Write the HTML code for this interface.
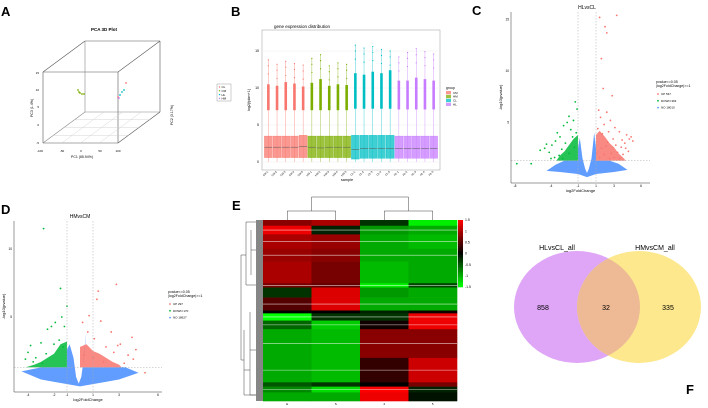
<!DOCTYPE html>
<html><head><meta charset="utf-8"><style>
body{margin:0;background:#fff}
svg{display:block;font-family:"Liberation Sans",sans-serif}
</style></head><body>
<svg id="s" width="708" height="408" viewBox="0 0 708 408">
<g font-weight="bold" font-size="13">
<text x="1" y="16">A</text><text x="231" y="16">B</text><text x="472" y="15">C</text>
<text x="1" y="214">D</text><text x="232" y="210">E</text><text x="686" y="394">F</text>
</g>
</svg>
<script>
// ---------- data ----------
const pcaGroups=["CL","CM","HL","HM"];
const pcaColors=["#F8766D","#7CAE00","#00BFC4","#C77CFF"];
const boxGroups=["CM","HM","CL","HL"];
const boxQ1=[0.6,0.6,0.6,0.6,0.6, 0.6,0.6,0.6,0.6,0.6, 0.4,0.5,0.5,0.5,0.5, 0.5,0.5,0.5,0.5,0.5];
const boxMed=[2.0,2.0,2.0,2.0,2.1, 2.0,1.9,2.0,2.0,2.0, 1.7,1.8,1.8,1.8,1.8, 1.8,1.8,1.8,1.8,1.8];
const boxQ3=[3.5,3.5,3.5,3.5,3.6, 3.5,3.5,3.5,3.5,3.5, 3.6,3.6,3.6,3.6,3.6, 3.5,3.5,3.5,3.5,3.5];
const boxWhisk=[7.0,7.0,7.0,7.0,7.0, 7.0,7.0,7.0,7.0,7.0, 7.2,7.2,7.2,7.2,7.2, 7.1,7.1,7.1,7.1,7.1];
const boxDense=[10.5,10.3,10.8,10.6,10.2, 10.7,11.2,10.3,10.5,10.4, 12.0,11.8,12.2,12.0,12.4, 11.0,11.0,11.4,11.2,11.0];
const boxMax=[13.8,13.2,13.6,13.3,13.1, 14.0,14.5,13.0,13.4,13.2, 15.8,15.4,15.6,15.2,15.0, 14.2,14.8,15.3,14.9,14.6];
const boxYTicks=[0,5,10,15];

const cTicksX=[-8,-4,-1,1,3,6], cTicksY=[5,10,15];
const cUp=[[1.4,15.2],[3.3,15.4],[2.0,14.3],[2.2,13.7],[1.6,11.2],[1.8,8.3],[2.8,7.6],[1.3,6.2],[2.2,6.0],[1.5,5.5],[2.6,5.2],[3.1,4.5],[1.9,4.8],[3.6,4.1],[4.4,3.8],[4.7,3.4],[4.9,3.6],[4.2,3.0],[3.8,2.6],[2.9,3.4],[2.4,4.1],[1.7,3.9],[3.4,2.1],[4.0,1.9],[4.6,2.2],[3.0,1.6],[2.1,2.7],[1.2,4.4],[1.6,2.5],[2.7,2.0],[5.1,3.2],[3.9,3.3],[2.3,3.1],[1.1,2.0],[1.4,1.6],[3.2,2.8],[4.3,2.5],[2.5,1.5],[3.6,1.5],[1.9,1.9]];
const cUpDense=[[1,1.3],[1,3.8],[1.4,4.2],[2,3.6],[2.5,3.0],[3,2.6],[3.5,2.0],[4,1.6],[4.3,1.3]];
const cDown=[[-1.3,7.0],[-1.1,6.3],[-2.0,5.6],[-1.5,5.2],[-3.3,4.0],[-2.6,4.7],[-2.2,5.0],[-1.8,4.3],[-3.0,3.6],[-4.5,2.9],[-4.7,2.5],[-4.2,2.1],[-3.9,2.8],[-3.5,3.2],[-2.8,2.4],[-2.4,3.0],[-1.6,3.6],[-5.2,2.3],[-7.8,1.0],[-6.2,1.0],[-3.6,1.6],[-2.0,2.0],[-1.2,4.0],[-3.1,1.8],[-4.0,1.5],[-2.7,1.5],[-1.4,2.6]];
const cDownDense=[[-1,1.3],[-1,3.8],[-1.5,3.4],[-2,2.8],[-2.5,2.2],[-3,1.8],[-3.4,1.3]];
const cNo=[[-4.5,0.3],[-3.5,0.9],[-2.5,1.3],[-1,1.3],[-1,2.5],[-0.8,3.5],[-0.5,1.5],[-0.2,0.5],[0,0.1],[0.2,0.5],[0.5,1.5],[0.8,4.0],[1,2.5],[1,1.3],[2.5,1.3],[3.5,1.0],[4.5,0.4],[3,0.2],[1,0.0],[0,-0.3],[-1,0.0],[-3,0.2]];

const dTicksX=[-4,-2,-1,1,3,6], dTicksY=[5,10];
const dUp=[[2.8,7.4],[1.4,6.9],[1.3,6.3],[0.7,5.1],[0.2,4.6],[1.6,4.7],[2.4,3.9],[3.1,3.0],[4.0,3.5],[4.3,2.6],[3.7,2.2],[2.0,2.8],[1.1,3.4],[0.6,3.9],[2.6,2.4],[3.4,1.6],[4.1,1.9],[0.3,2.2],[1.8,1.7],[5.0,0.9],[2.9,2.9],[1.0,2.0]];
const dUpDense=[[0,1.3],[0,2.8],[0.5,3.0],[1,2.5],[1.5,2.3],[2,2.0],[2.5,1.7],[3,1.5],[3.2,1.3]];
const dDown=[[-2.8,11.5],[-1.5,7.1],[-1.0,5.8],[-1.4,5.0],[-1.9,4.6],[-2.5,4.1],[-2.2,4.3],[-3.0,3.1],[-3.8,2.9],[-4.0,2.4],[-3.4,2.0],[-2.6,2.3],[-2.0,3.0],[-1.6,3.3],[-1.2,4.3],[-3.6,1.7],[-2.9,1.6],[-4.2,1.9],[-1.3,2.8]];
const dDownDense=[[-1,1.3],[-1,3.2],[-1.5,3.0],[-2,2.3],[-2.5,2.0],[-3,1.7],[-3.5,1.5],[-4.2,1.3]];
const dNo=[[-4.5,1.0],[-3,1.3],[-1,1.3],[-1,2.6],[-0.8,3.0],[-0.5,2.0],[-0.3,0.6],[-0.1,0.1],[0.1,0.6],[0.3,2.0],[0.5,4.0],[0.3,2.4],[0.2,1.3],[3.5,1.3],[4.5,0.9],[3,0.4],[0,-0.1],[-3,0.4]];

const heatRowsN=[4,6,10,9,15,3,7,9,2,5,6,20,17,3,4,6];
const heatGap=[0,1,1,1,0,1,0,1,0,1,1,1,1,0,1,0];
const heatVals=[[0.8,1.0,-0.3,-1.4],[1.4,-0.2,-0.9,-1.0],[1.0,0.9,-1.0,-1.1],[0.9,0.8,-1.0,-1.0],[1.0,0.7,-1.1,-1.0],[0.7,0.6,-1.4,-0.4],[-0.3,1.3,-0.9,-1.0],[0.5,1.3,-1.0,-1.0],[0,0,-0.2,0.1],[-1.5,-0.3,-0.3,1.4],[-0.6,-1.2,0.1,1.4],[-1.0,-1.1,0.8,0.8],[-1.0,-1.1,0.3,1.2],[-0.5,-0.3,0.0,0.7],[-0.8,-1.3,1.5,-0.2],[-1.0,-1.0,1.4,-0.1]];
const heatCols=["E","S","4","5"];
const heatTicks=[1.5,1,0.5,0,-0.5,-1,-1.5];

const vennSets=["HLvsCL_all","HMvsCM_all"];
const vennCounts=[858,32,335];

// ---------- helpers ----------
const S=document.getElementById('s'),NS="http://www.w3.org/2000/svg";
function mk(tag,at,parent,txt){const e=document.createElementNS(NS,tag);for(const k in at)e.setAttribute(k,at[k]);if(txt!==undefined)e.textContent=txt;(parent||S).appendChild(e);return e;}
function grp(name){const g=mk('g',{});return g;}

// ---------- A: PCA ----------
(function(){
const g=grp('pca-3d-plot');
mk('text',{x:104,y:31,'font-size':4.5,'font-weight':'bold','text-anchor':'middle'},g,'PCA 3D Plot');
const L=(a,b,c,d,col,w)=>mk('line',{x1:a,y1:b,x2:c,y2:d,stroke:col||'#555','stroke-width':w||0.6},g);
const dx=42,dy=-31;
L(43,72,118,72);L(43,72,43,143);L(43,143,118,143);L(118,72,118,143);
L(85,41,160,41);L(85,41,85,112,'#888');L(160,41,160,112);L(85,112,160,112,'#888');
L(43,72,85,41);L(118,72,160,41);L(43,143,85,112,'#888');L(118,143,160,112);
for(let i=1;i<4;i++){const t=i/4;L(43+75*t,143,85+75*t,112,'#ccc',0.4);L(43+dx*t,143+dy*t,118+dx*t,143+dy*t,'#ccc',0.4);}
const pts=[[80,93,1],[82,94,1],[79,92,1],[84,94,1],[78,90,1],[118,97,0],[120,95,2],[122,92,2],[124,90,2],[126,83,0],[119,98,3]];
pts.forEach(p=>mk('circle',{cx:p[0],cy:p[1],r:0.9,fill:pcaColors[p[2]]},g));
[['-100',40,152],['-50',62,152],['0',81,152],['50',100,152],['100',118,152]].forEach(t=>mk('text',{x:t[1],y:t[2],'font-size':3,'text-anchor':'middle'},g,t[0]));
[['15',39,74],['10',39,91],['5',39,108],['0',39,126],['-5',39,144]].forEach(t=>mk('text',{x:t[1],y:t[2],'font-size':3,'text-anchor':'end'},g,t[0]));
mk('text',{x:82,y:158,'font-size':3.5,'text-anchor':'middle'},g,'PC1 (65.94%)');
mk('text',{x:33,y:108,'font-size':3.5,'text-anchor':'middle',transform:'rotate(-90 33 108)'},g,'PC3 (1.4%)');
mk('text',{x:173,y:115,'font-size':3.5,'text-anchor':'middle',transform:'rotate(-90 173 115)'},g,'PC2 (3.17%)');
const lg=grp('pca-legend');
mk('rect',{x:217,y:84,width:14,height:17,fill:'#fff',stroke:'#888','stroke-width':0.4},lg);
pcaGroups.forEach((n,i)=>{mk('circle',{cx:219.5,cy:87+i*3.8,r:0.7,fill:pcaColors[i]},lg);mk('text',{x:221.5,y:88.2+i*3.8,'font-size':3},lg,n);});
})();

// ---------- B: boxplot ----------
(function(){
const g=grp('boxplot-expression');
const X0=262,X1=440,Y0=30,Y1=170;
const y=v=>162-v*7.4;
mk('rect',{x:X0,y:Y0,width:X1-X0,height:Y1-Y0,fill:'#fff',stroke:'#999','stroke-width':0.5},g);
boxYTicks.forEach(t=>{mk('line',{x1:X0,x2:X1,y1:y(t),y2:y(t),stroke:'#eee','stroke-width':0.5},g);mk('text',{x:X0-3,y:y(t)+1.2,'font-size':3.5,'text-anchor':'end'},g,t);});
mk('text',{x:302,y:28,'font-size':4.5,'text-anchor':'middle'},g,'gene expression distribution');
mk('text',{x:347,y:181,'font-size':3.8,'text-anchor':'middle'},g,'sample');
mk('text',{x:250,y:100,'font-size':3.8,'text-anchor':'middle',transform:'rotate(-90 250 100)'},g,'log2(fpkm+1)');
const n=boxMed.length,w=(X1-X0-4)/n;
for(let i=0;i<n;i++){
 const col=pcaColors[Math.floor(i/5)],cx=X0+2+w*(i+0.5);
 mk('line',{x1:cx,x2:cx,y1:y(0),y2:y(boxMax[i]),stroke:col,'stroke-width':0.5,opacity:0.7},g);
 mk('line',{x1:cx,x2:cx,y1:y(boxWhisk[i]),y2:y(boxDense[i]),stroke:col,'stroke-width':2.6},g);
 [boxMax[i],boxMax[i]-0.8,boxMax[i]-1.9].forEach(v=>mk('circle',{cx:cx,cy:y(v),r:0.6,fill:col},g));
 mk('rect',{x:cx-w*0.45,y:y(boxQ3[i]),width:w*0.9,height:y(boxQ1[i])-y(boxQ3[i]),fill:col,'fill-opacity':0.75,stroke:col,'stroke-width':0.4},g);
 mk('line',{x1:cx-w*0.45,x2:cx+w*0.45,y1:y(boxMed[i]),y2:y(boxMed[i]),stroke:'#555','stroke-width':0.5},g);
 mk('text',{x:cx,y:172,'font-size':2.6,'text-anchor':'end',transform:`rotate(-45 ${cx} 172)`},g,boxGroups[Math.floor(i/5)]+'-'+(i%5+1));
}
const lg=grp('boxplot-legend');
mk('text',{x:446,y:89,'font-size':3.5},lg,'group');
boxGroups.forEach((n,i)=>{mk('rect',{x:446,y:91+i*3.9,width:5,height:3.3,fill:pcaColors[i],'fill-opacity':0.75},lg);mk('text',{x:453,y:93.8+i*3.9,'font-size':3},lg,n);});
})();

// ---------- Volcano ----------
function volcano(name,o){
 const g=grp(name);
 const X=v=>o.x0+v*o.sx,Y=v=>o.y0-v*o.sy;
 const poly=(arr,c,op)=>mk('polygon',{points:arr.map(p=>X(p[0])+','+Y(p[1])).join(' '),fill:c,'fill-opacity':op},g);
 poly(o.no,'#619CFF',1);
 poly(o.upD,'#F8766D',0.85);poly(o.downD,'#00BA38',0.85);
 o.up.forEach(p=>mk('circle',{cx:X(p[0]),cy:Y(p[1]),r:0.9,fill:'#F8766D'},g));
 o.down.forEach(p=>mk('circle',{cx:X(p[0]),cy:Y(p[1]),r:0.9,fill:'#00BA38'},g));
 const dash={stroke:'#aaa','stroke-width':0.5,'stroke-dasharray':'1.5,1.5'};
 [-1,1].forEach(v=>mk('line',Object.assign({x1:X(v),x2:X(v),y1:o.top,y2:o.bot},dash),g));
 mk('line',Object.assign({x1:o.left,x2:o.right,y1:Y(1.3),y2:Y(1.3)},dash),g);
 mk('line',{x1:o.left,x2:o.left,y1:o.top,y2:o.bot,stroke:'#333','stroke-width':0.5},g);
 mk('line',{x1:o.left,x2:o.right,y1:o.bot,y2:o.bot,stroke:'#333','stroke-width':0.5},g);
 o.tx.forEach(t=>mk('text',{x:X(t),y:o.bot+4,'font-size':3.2,'text-anchor':'middle'},g,t));
 o.ty.forEach(t=>mk('text',{x:o.left-2,y:Y(t)+1,'font-size':3.2,'text-anchor':'end'},g,t));
 mk('text',{x:(o.left+o.right)/2,y:o.bot+9,'font-size':4,'text-anchor':'middle'},g,'log2FoldChange');
 const my=(o.top+o.bot)/2;
 mk('text',{x:o.left-9,y:my,'font-size':4,'text-anchor':'middle',transform:`rotate(-90 ${o.left-9} ${my})`},g,'-log10(pvalue)');
 mk('text',{x:X(0),y:o.top-3,'font-size':5,'text-anchor':'middle'},g,o.title);
 const lg=grp(name+'-legend');
 mk('text',{x:o.lx,y:o.ly,'font-size':3.6},lg,'pvalue<=0.05');
 mk('text',{x:o.lx,y:o.ly+4,'font-size':3.6},lg,'|log2FoldChange|>=1');
 ['#F8766D','#00BA38','#619CFF'].forEach((c,i)=>{mk('circle',{cx:o.lx+2,cy:o.ly+11+i*6.8,r:0.9,fill:c},lg);mk('text',{x:o.lx+5,y:o.ly+12+i*6.8,'font-size':3},lg,o.leg[i]);});
}
volcano('volcano-hlvscl',{x0:587,sx:9,y0:174,sy:10.3,left:511,right:650,top:12,bot:183,no:cNo,up:cUp,down:cDown,upD:cUpDense,downD:cDownDense,tx:cTicksX,ty:cTicksY,title:'HLvsCL',lx:656,ly:83,leg:['UP 547','DOWN 363','NO 18010']});
volcano('volcano-hmvscm',{x0:80,sx:13,y0:385,sy:13.6,left:14,right:162,top:221,bot:392,no:dNo,up:dUp,down:dDown,upD:dUpDense,downD:dDownDense,tx:dTicksX,ty:dTicksY,title:'HMvsCM',lx:168,ly:293,leg:['UP 297','DOWN 170','NO 18627']});

// ---------- E: heatmap ----------
(function(){
const g=grp('heatmap');
const L=263,R=457,T=220,B=401,cw=(R-L)/4;
const col=v=>{const t=Math.max(-1,Math.min(1,v/1.5));return t>=0?`rgb(${Math.round(255*t)},0,0)`:`rgb(0,${Math.round(255*-t)},0)`;};
const tot=heatRowsN.reduce((a,b)=>a+b,0);let cy=T;
heatRowsN.forEach((n,r)=>{const h=n/tot*(B-T);
 for(let c=0;c<4;c++)mk('rect',{x:L+c*cw,y:cy,width:cw+0.3,height:h+0.3,fill:col(heatVals[r][c])},g);
 if(heatGap[r])mk('line',{x1:L,x2:R,y1:cy+h*0.5,y2:cy+h*0.5,stroke:'#fff','stroke-width':0.6,opacity:0.8},g);
 cy+=h;});
heatCols.forEach((c,i)=>mk('text',{x:L+cw*(i+0.5),y:405,'font-size':3,'text-anchor':'middle'},g,c));
const dg=grp('heatmap-dendrograms');
const P=d=>mk('path',{d:d,fill:'none',stroke:'#444','stroke-width':0.5},dg);
const cx=i=>L+cw*(i+0.5);
P(`M${cx(0)},${T}V211H${cx(1)}V${T}M${cx(2)},${T}V211H${cx(3)}V${T}M${(cx(0)+cx(1))/2},211V197H${(cx(2)+cx(3))/2}V211`);
P(`M256,${T+2}H246V${T+65}H256M246,${T+35}H241V${T+140}H244M244,${T+110}V${T+175}H256M244,${T+150}H250M250,${T+92}V${T+175}H256M250,${T+130}H256M251,${T+10}V${T+55}M251,${T+30}H256`);
mk('rect',{x:256,y:T,width:7,height:B-T,fill:'#222',opacity:0.55},dg);
const cb=grp('heatmap-colorbar');
for(let i=0;i<40;i++){const v=1.5-3*i/39;mk('rect',{x:458,y:220+i*67/40,width:5,height:67/40+0.3,fill:col(v)},cb);}
heatTicks.forEach(t=>mk('text',{x:465,y:220+(1.5-t)/3*67+1.2,'font-size':3.4},cb,t));
})();

// ---------- F: Venn ----------
(function(){
const g=grp('venn-diagram');
const defs=mk('defs',{},g);
const cp=mk('clipPath',{id:'cl'},defs);
mk('ellipse',{cx:577,cy:307,rx:63,ry:56},cp);
mk('ellipse',{cx:577,cy:307,rx:63,ry:56,fill:'#DFA6F7'},g);
mk('ellipse',{cx:639,cy:307,rx:62,ry:56,fill:'#FDE88E'},g);
mk('ellipse',{cx:639,cy:307,rx:62,ry:56,fill:'#EDBA95','clip-path':'url(#cl)'},g);
mk('text',{x:557,y:250,'font-size':7,'text-anchor':'middle'},g,vennSets[0]);
mk('text',{x:655,y:250,'font-size':7,'text-anchor':'middle'},g,vennSets[1]);
[[543,vennCounts[0]],[606,vennCounts[1]],[668,vennCounts[2]]].forEach(p=>mk('text',{x:p[0],y:310,'font-size':7,'text-anchor':'middle'},g,p[1]));
})();
</script>
</body></html>
